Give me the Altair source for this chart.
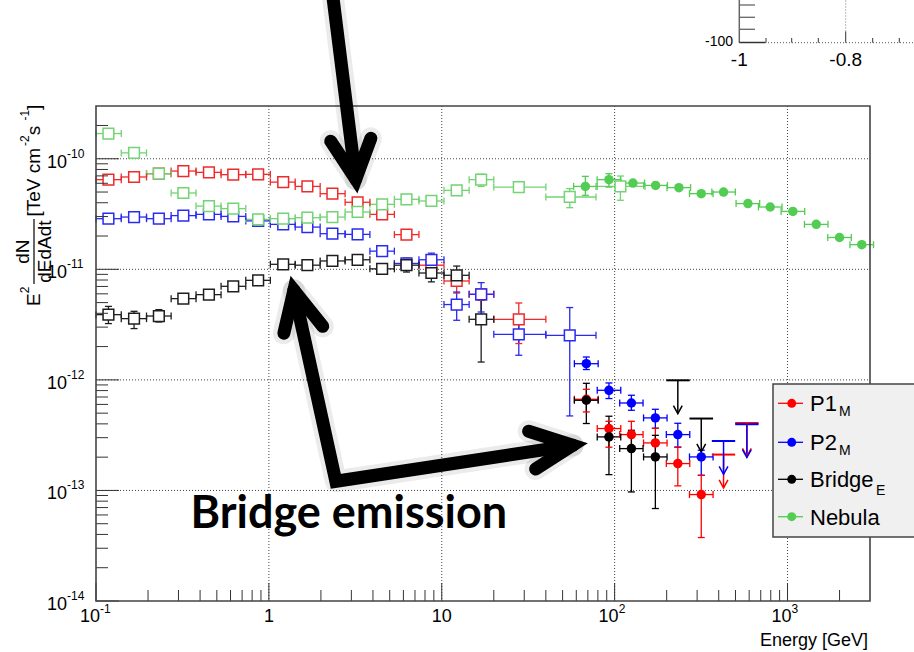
import altair as alt
import pandas as pd

W, H = 774, 495
PAD = {"left": 96, "top": 106, "right": 44, "bottom": 51}
FONT = "Liberation Sans"

# ---------------- Fermi-LAT points (open squares) ----------------
fermi_E = [0.118, 0.166, 0.231, 0.320, 0.450, 0.622, 0.867, 1.21, 1.67, 2.33,
           3.26, 4.52, 6.25, 8.71, 12.2, 16.9, 27.9, 55.0, 108.0]
fermi_E_lo = [0.100, 0.140, 0.196, 0.272, 0.379, 0.529, 0.735, 1.02, 1.42, 1.98,
              2.76, 3.84, 5.32, 7.38, 10.3, 14.4, 20.0, 40.0, 78.0]
fermi_E_hi = [0.140, 0.196, 0.272, 0.379, 0.529, 0.735, 1.02, 1.42, 1.98, 2.76,
              3.84, 5.32, 7.38, 10.3, 14.4, 20.0, 40.0, 78.0, 150.0]

p1_fermi = [6.47e-11, 6.84e-11, 7.32e-11, 7.74e-11, 7.53e-11, 7.18e-11, 7.23e-11, 6.15e-11,
            5.62e-11, 4.83e-11, 4.04e-11, 3.14e-11, 2.06e-11, 1.09e-11, 7.84e-12, 5.94e-12, 3.53e-12]
p1_fermi_lo = [None] * 13 + [9.8e-12, 6.1e-12, 5.24e-12, 2.13e-12]
p1_fermi_hi = [None] * 13 + [1.2e-11, 8.83e-12, 6.6e-12, 4.96e-12]

p2_fermi = [2.87e-11, 2.97e-11, 2.87e-11, 3.06e-11, 3.14e-11, 3.01e-11, 2.74e-11, 2.55e-11,
            2.41e-11, 2.10e-11, 2.07e-11, 1.46e-11, 1.13e-11, 1.22e-11, 4.80e-12, 5.94e-12,
            2.58e-12, 2.53e-12]
p2_fermi_lo = [None] * 13 + [1.09e-11, 3.46e-12, 4.11e-12, 1.67e-12, 4.72e-13]
p2_fermi_hi = [None] * 13 + [1.40e-11, 6.23e-12, 7.58e-12, 3.32e-12, 4.51e-12]

bridge_fermi = [3.89e-12, 3.58e-12, 3.78e-12, 5.43e-12, 5.90e-12, 7.02e-12, 7.95e-12, 1.11e-11,
                1.09e-11, 1.19e-11, 1.22e-11, 1.01e-11, 1.09e-11, 9.26e-12, 8.83e-12, 3.53e-12]
bridge_fermi_lo = [3.23e-12, 2.91e-12, 3.34e-12] + [None] * 9 + [9.45e-12, 7.7e-12, 7.17e-12, 1.45e-12]
bridge_fermi_hi = [4.62e-12, 4.17e-12, 4.32e-12] + [None] * 9 + [1.26e-11, 1.09e-11, 1.07e-11, 5.82e-12]

nebula_fermi = [1.69e-10, 1.13e-10, 7.32e-11, 4.90e-11, 3.73e-11, 3.54e-11, 2.83e-11, 2.87e-11,
                2.93e-11, 2.97e-11, 3.30e-11, 3.87e-11, 4.30e-11, 4.15e-11, 5.18e-11, 6.47e-11,
                5.54e-11, 4.51e-11, 5.62e-11]
nebula_fermi_lo = [None] * 15 + [5.62e-11, None, 3.61e-11, 4.21e-11]
nebula_fermi_hi = [None] * 15 + [7.23e-11, None, 5.37e-11, 6.98e-11]

# ---------------- MAGIC points (filled circles) ----------------
magic_E = [68.6, 92.7, 125.0, 172.0, 232.0, 317.0]
magic_E_lo = [58.5, 79.3, 107.0, 147.0, 199.0, 271.0]
magic_E_hi = [80.3, 108.5, 146.0, 201.0, 272.0, 371.0]

p1_magic = [6.68e-13, 3.63e-13, 3.20e-13, 2.69e-13, 1.75e-13, 9.18e-14]
p1_magic_lo = [5.13e-13, 2.46e-13, 2.43e-13, 2.00e-13, 1.10e-13, 3.75e-14]
p1_magic_hi = [8.22e-13, 4.22e-13, 4.22e-13, 3.65e-13, 2.47e-13, 1.37e-13]

p2_magic = [1.40e-12, 8.05e-13, 6.18e-13, 4.53e-13, 3.20e-13, 2.01e-13]
p2_magic_lo = [1.24e-12, 6.78e-13, 5.31e-13, 3.65e-13, 2.46e-13, 1.37e-13]
p2_magic_hi = [1.61e-12, 9.38e-13, 7.26e-13, 5.42e-13, 4.05e-13, 2.31e-13]

bridge_magic = [6.54e-13, 3.05e-13, 2.39e-13, 2.01e-13]
bridge_magic_lo = [4.03e-13, 1.39e-13, 9.69e-14, 6.86e-14]
bridge_magic_hi = [9.31e-13, 4.69e-13, 3.50e-13, 3.15e-13]

nebula_magic_E = [67.7, 92.7, 127.6, 172.6, 235.4, 317.0, 426.6, 590.0, 794.0, 1074.0, 1466.0, 1999.0, 2688.0]
nebula_magic_E_lo = [57.9, 79.2, 109.0, 147.5, 201.0, 271.0, 365.0, 504.0, 679.0, 918.0, 1253.0, 1709.0, 2297.0]
nebula_magic_E_hi = [79.2, 108.5, 149.0, 202.0, 275.0, 371.0, 499.0, 690.0, 929.0, 1257.0, 1715.0, 2339.0, 3145.0]
nebula_magic = [5.62e-11, 6.47e-11, 6.03e-11, 5.74e-11, 5.48e-11, 4.83e-11, 5.00e-11, 3.93e-11,
                3.66e-11, 3.34e-11, 2.55e-11, 1.94e-11, 1.67e-11]
nebula_magic_lo = [4.67e-11, 5.54e-11] + [None] * 11
nebula_magic_hi = [6.93e-11, 7.32e-11] + [None] * 11

# ---------------- MAGIC upper limits ----------------
ul_series = ["Bridge", "Bridge", "P1", "P1", "P2", "P2"]
ul_E = [232.0, 317.0, 426.6, 582.0, 426.6, 582.0]
ul_E_lo = [199.0, 271.0, 365.0, 498.0, 365.0, 498.0]
ul_E_hi = [272.0, 371.0, 498.0, 680.0, 498.0, 680.0]
ul_F = [9.91e-13, 4.47e-13, 2.11e-13, 4.07e-13, 2.80e-13, 3.97e-13]

# ---------------- annotations (energy, flux) ----------------
arrow_group = ["a", "a", "h1", "h1", "h1", "b", "b", "b", "h2", "h2", "h2", "h3", "h3", "h3"]
arrow_E = [2.34, 3.18, 2.28, 3.18, 3.89, 1.395, 2.44, 57.2, 1.221, 1.395, 2.05, 31.8, 57.2, 34.9]
arrow_F = [3.0e-9, 6.52e-11, 1.44e-10, 6.52e-11, 1.53e-10, 6.46e-12, 1.21e-13, 2.56e-13,
           2.64e-12, 6.46e-12, 3.05e-12, 3.43e-13, 2.56e-13, 1.56e-13]
note_text = ["Bridge emission"]
note_E = [2.90]
note_F = [4.55e-14]

# ---------------- axes ----------------
x_major = [0.1, 1, 10, 100, 1000]
x_label_base = ["10", "1", "10", "10", "10"]
x_label_exp = ["-1", "", "", "2", "3"]
y_major = [1e-14, 1e-13, 1e-12, 1e-11, 1e-10]
y_label_exp = ["-14", "-13", "-12", "-11", "-10"]
x_grid = [1, 10, 100, 1000]
y_grid = [1e-13, 1e-12, 1e-11, 1e-10]

legend_names = ["P1", "P2", "Bridge", "Nebula"]
legend_subs = ["M", "M", "E", ""]

COL = {
    ("P1", "fermi"): "#ee2a2a", ("P2", "fermi"): "#2a2af0",
    ("Bridge", "fermi"): "#1e1e1e", ("Nebula", "fermi"): "#72d472",
    ("P1", "magic"): "#ff0000", ("P2", "magic"): "#0000ff",
    ("Bridge", "magic"): "#000000", ("Nebula", "magic"): "#52cc52",
}
LEG_COL = ["#ff0000", "#0000ff", "#000000", "#52cc52"]

XS = alt.Scale(type="log", domain=[0.1, 3000], nice=False)
YS = alt.Scale(type="log", domain=[1e-14, 3e-10], nice=False)


def X(f):
    return alt.X(f"{f}:Q", scale=XS, axis=None)


def Y(f):
    return alt.Y(f"{f}:Q", scale=YS, axis=None)


recs = []


def add(series, src, E, Elo, Ehi, F, Flo, Fhi):
    for i, f in enumerate(F):
        recs.append(dict(series=series, src=src, E=E[i], Elo=Elo[i], Ehi=Ehi[i], F=f,
                         Flo=Flo[i], Fhi=Fhi[i], color=COL[(series, src)]))


add("P1", "fermi", fermi_E, fermi_E_lo, fermi_E_hi, p1_fermi, p1_fermi_lo, p1_fermi_hi)
add("P2", "fermi", fermi_E, fermi_E_lo, fermi_E_hi, p2_fermi, p2_fermi_lo, p2_fermi_hi)
add("Bridge", "fermi", fermi_E, fermi_E_lo, fermi_E_hi, bridge_fermi, bridge_fermi_lo, bridge_fermi_hi)
add("Nebula", "fermi", fermi_E, fermi_E_lo, fermi_E_hi, nebula_fermi, nebula_fermi_lo, nebula_fermi_hi)
add("P1", "magic", magic_E, magic_E_lo, magic_E_hi, p1_magic, p1_magic_lo, p1_magic_hi)
add("P2", "magic", magic_E, magic_E_lo, magic_E_hi, p2_magic, p2_magic_lo, p2_magic_hi)
add("Bridge", "magic", magic_E, magic_E_lo, magic_E_hi, bridge_magic, bridge_magic_lo, bridge_magic_hi)
add("Nebula", "magic", nebula_magic_E, nebula_magic_E_lo, nebula_magic_E_hi, nebula_magic,
    nebula_magic_lo, nebula_magic_hi)

pts = pd.DataFrame(recs)
pts["Flo"] = pd.to_numeric(pts["Flo"])
pts["Fhi"] = pd.to_numeric(pts["Fhi"])
hcaps = pd.concat([pts.assign(cx=pts.Elo), pts.assign(cx=pts.Ehi)])
vpts = pts[pts.Flo.notna()]
vcaps = pd.concat([vpts.assign(cy=vpts.Flo), vpts.assign(cy=vpts.Fhi)])
fermi = pts[pts.src == "fermi"]
magic = pts[pts.src == "magic"]

ul = pd.DataFrame(dict(series=ul_series, E=ul_E, Elo=ul_E_lo, Ehi=ul_E_hi, F=ul_F))
ul["color"] = [COL[(s, "magic")] for s in ul.series]
ul["tip"] = ul.F * 0.5  # fixed-length arrow, as drawn by ROOT

STROKE = alt.Color("color:N", scale=None, legend=None)

layers = []
# grid
layers.append(alt.Chart(pd.DataFrame({"v": x_grid})).mark_rule(
    strokeDash=[1, 2], color="#444", strokeWidth=1).encode(x=X("v"), y=alt.value(0), y2=alt.value(H)))
layers.append(alt.Chart(pd.DataFrame({"v": y_grid})).mark_rule(
    strokeDash=[1, 2], color="#444", strokeWidth=1).encode(y=Y("v"), x=alt.value(0), x2=alt.value(W)))

# error bars
layers.append(alt.Chart(pts).mark_rule(strokeWidth=1.3).encode(
    x=X("Elo"), x2="Ehi", y=Y("F"), color=STROKE))
layers.append(alt.Chart(vpts).mark_rule(strokeWidth=1.3).encode(
    x=X("E"), y=Y("Flo"), y2="Fhi", color=STROKE))
layers.append(alt.Chart(hcaps).mark_point(shape="M0,-1L0,1", size=49, strokeWidth=1.3,
                                          filled=False, opacity=1).encode(
    x=X("cx"), y=Y("F"), color=STROKE))
layers.append(alt.Chart(vcaps).mark_point(shape="M-1,0L1,0", size=49, strokeWidth=1.3,
                                          filled=False, opacity=1).encode(
    x=X("E"), y=Y("cy"), color=STROKE))

# upper limits
layers.append(alt.Chart(ul).mark_rule(strokeWidth=2).encode(x=X("Elo"), x2="Ehi", y=Y("F"), color=STROKE))
layers.append(alt.Chart(ul).mark_rule(strokeWidth=1.5).encode(x=X("E"), y=Y("F"), y2="tip", color=STROKE))
layers.append(alt.Chart(ul).mark_point(shape="M-1.1,-2L0,0L1.1,-2", size=64, strokeWidth=1.5,
                                       filled=False, opacity=1).encode(
    x=X("E"), y=Y("tip"), color=STROKE))

# markers
layers.append(alt.Chart(fermi).mark_point(shape="square", size=115, filled=False, fill="white",
                                          fillOpacity=1, strokeWidth=1.5, opacity=1).encode(
    x=X("E"), y=Y("F"), color=STROKE))
layers.append(alt.Chart(magic).mark_circle(size=90, opacity=1).encode(
    x=X("E"), y=Y("F"), color=STROKE))

# ticks (inside)
x_minor = [m * d for d in [0.1, 1, 10, 100, 1000] for m in range(2, 10) if m * d < 3000]
y_minor = [m * d for d in [1e-14, 1e-13, 1e-12, 1e-11, 1e-10] for m in range(2, 10) if m * d < 3e-10]
tick_col = "#333"
layers.append(alt.Chart(pd.DataFrame({"v": x_major})).mark_rule(color=tick_col, strokeWidth=1).encode(
    x=X("v"), y=alt.value(H), y2=alt.value(H - 18)))
layers.append(alt.Chart(pd.DataFrame({"v": x_minor})).mark_rule(color=tick_col, strokeWidth=1).encode(
    x=X("v"), y=alt.value(H), y2=alt.value(H - 11)))
layers.append(alt.Chart(pd.DataFrame({"v": y_major})).mark_rule(color=tick_col, strokeWidth=1).encode(
    y=Y("v"), x=alt.value(0), x2=alt.value(23)))
layers.append(alt.Chart(pd.DataFrame({"v": y_minor})).mark_rule(color=tick_col, strokeWidth=1).encode(
    y=Y("v"), x=alt.value(0), x2=alt.value(12)))

# frame
one = pd.DataFrame({"a": [0]})
layers.append(alt.Chart(one).mark_rect(filled=False, stroke="#444", strokeWidth=1.6).encode(
    x=alt.value(0), x2=alt.value(W), y=alt.value(0), y2=alt.value(H)))

# tick labels
XL_Y = 511
xl = pd.DataFrame(dict(v=x_major, base=x_label_base, exp=x_label_exp))
xl_plain = xl[xl.exp == ""]
xl_sup = xl[xl.exp != ""]
layers.append(alt.Chart(xl_plain).mark_text(font=FONT, fontSize=18, align="center", baseline="middle").encode(
    x=X("v"), y=alt.value(XL_Y), text="base:N"))
layers.append(alt.Chart(xl_sup).mark_text(font=FONT, fontSize=18, align="right", baseline="middle", dx=4).encode(
    x=X("v"), y=alt.value(XL_Y), text="base:N"))
layers.append(alt.Chart(xl_sup).mark_text(font=FONT, fontSize=12, align="left", baseline="middle", dx=4, dy=-8).encode(
    x=X("v"), y=alt.value(XL_Y), text="exp:N"))
yl = pd.DataFrame(dict(v=y_major, exp=y_label_exp))
layers.append(alt.Chart(yl).mark_text(font=FONT, fontSize=18, align="right", baseline="middle", dy=4).encode(
    y=Y("v"), x=alt.value(-29), text=alt.value("10")))
layers.append(alt.Chart(yl).mark_text(font=FONT, fontSize=12, align="left", baseline="middle", dy=-5).encode(
    y=Y("v"), x=alt.value(-29), text="exp:N"))

# axis titles
layers.append(alt.Chart(one).mark_text(font=FONT, fontSize=18, align="right", baseline="alphabetic").encode(
    x=alt.value(772), y=alt.value(540), text=alt.value("Energy [GeV]")))


def ytxt(txt, x, y, size, align="left"):
    return alt.Chart(one).mark_text(font=FONT, fontSize=size, angle=270, align=align,
                                    baseline="middle").encode(
        x=alt.value(x - PAD["left"]), y=alt.value(y - PAD["top"]), text=alt.value(txt))


layers += [
    ytxt("E", 34, 306, 19), ytxt("2", 25, 293.3, 12),
    ytxt("dN", 23, 251.6, 19, "center"), ytxt("dEdAdt", 45, 251.6, 19, "center"),
    ytxt("[TeV cm", 34, 216.6, 19), ytxt("-2", 25, 145.9, 12), ytxt(" s", 34, 135.2, 19),
    ytxt("-1", 25, 120.4, 12), ytxt("]", 34, 109.9, 19),
]
layers.append(alt.Chart(one).mark_rule(color="black", strokeWidth=1.2).encode(
    x=alt.value(34 - PAD["left"]), y=alt.value(219 - PAD["top"]), y2=alt.value(284 - PAD["top"])))

# annotation arrows + text
arr = pd.DataFrame(dict(g=arrow_group, E=arrow_E, F=arrow_F))
arr["i"] = range(len(arr))
layers.append(alt.Chart(arr).mark_line(color="#000", opacity=0.08, strokeWidth=22, strokeCap="round",
                                       strokeJoin="round", clip=False).encode(
    x=X("E"), y=Y("F"), detail="g:N", order="i:Q"))
layers.append(alt.Chart(arr).mark_line(color="#000", strokeWidth=13, strokeCap="round",
                                       strokeJoin="miter", clip=False).encode(
    x=X("E"), y=Y("F"), detail="g:N", order="i:Q"))
layers.append(alt.Chart(pd.DataFrame(dict(E=note_E, F=note_F, t=note_text))).mark_text(
    font="Lato", fontWeight="bold", fontSize=45, align="center", baseline="alphabetic", clip=False).encode(
    x=X("E"), y=Y("F"), text="t:N"))

# legend box
lx0 = 773 - PAD["left"]
layers.append(alt.Chart(one).mark_rect(fill="#f0f0f0", stroke="#444", strokeWidth=1.5).encode(
    x=alt.value(lx0), x2=alt.value(W + 80), y=alt.value(384 - PAD["top"]), y2=alt.value(537 - PAD["top"])))
leg_y = [403.3, 442.3, 479.3, 516.7]
sub_x = [839, 839, 876, 0]
sub_dy = [9, 9, 12, 0]
for name, sub, c, yy, sx, sdy in zip(legend_names, legend_subs, LEG_COL, leg_y, sub_x, sub_dy):
    ry = yy - PAD["top"]
    layers.append(alt.Chart(one).mark_rule(color=c, strokeWidth=1.3).encode(
        x=alt.value(778 - PAD["left"]), x2=alt.value(803 - PAD["left"]), y=alt.value(ry)))
    layers.append(alt.Chart(one).mark_circle(color=c, size=80, opacity=1).encode(
        x=alt.value(791.7 - PAD["left"]), y=alt.value(ry)))
    layers.append(alt.Chart(one).mark_text(font=FONT, fontSize=22, align="left", baseline="middle").encode(
        x=alt.value(810 - PAD["left"]), y=alt.value(ry + 1), text=alt.value(name)))
    if sub:
        layers.append(alt.Chart(one).mark_text(font=FONT, fontSize=14, align="left", baseline="middle").encode(
            x=alt.value(sx - PAD["left"]), y=alt.value(ry + sdy), text=alt.value(sub)))

# fragment of a neighbouring figure (top right)
ic = "#666"
ox, oy = PAD["left"], PAD["top"]
layers.append(alt.Chart(one).mark_rule(color=ic, strokeWidth=1.5).encode(
    x=alt.value(739.3 - ox), y=alt.value(-oy), y2=alt.value(42.7 - oy)))
for ty in [5, 17.3, 29.3]:
    layers.append(alt.Chart(one).mark_rule(color=ic, strokeWidth=1.3).encode(
        x=alt.value(739.3 - ox), x2=alt.value(755 - ox), y=alt.value(ty - oy)))
layers.append(alt.Chart(one).mark_rule(color="#333", strokeWidth=1.5).encode(
    x=alt.value(739.3 - ox), x2=alt.value(765 - ox), y=alt.value(42.5 - oy)))
layers.append(alt.Chart(one).mark_rule(color="#555", strokeWidth=1, strokeDash=[1, 2]).encode(
    x=alt.value(765 - ox), x2=alt.value(914 - ox), y=alt.value(42.7 - oy)))
for tx in [766, 791.7, 818.3, 872.7, 899.3]:
    layers.append(alt.Chart(one).mark_rule(color="#333", strokeWidth=1).encode(
        x=alt.value(tx - ox), y=alt.value(42.7 - oy), y2=alt.value(38 - oy)))
layers.append(alt.Chart(one).mark_rule(color="#333", strokeWidth=1).encode(
    x=alt.value(845.7 - ox), y=alt.value(42.7 - oy), y2=alt.value(31.5 - oy)))
layers.append(alt.Chart(one).mark_rule(color="#777", strokeWidth=1, strokeDash=[1, 2]).encode(
    x=alt.value(845.7 - ox), y=alt.value(31.5 - oy), y2=alt.value(-oy)))
layers.append(alt.Chart(one).mark_text(font=FONT, fontSize=14, align="right", baseline="middle").encode(
    x=alt.value(733 - ox), y=alt.value(42 - oy), text=alt.value("-100")))
layers.append(alt.Chart(one).mark_text(font=FONT, fontSize=19, align="center", baseline="middle").encode(
    x=alt.value(739.3 - ox), y=alt.value(60 - oy), text=alt.value("-1")))
layers.append(alt.Chart(one).mark_text(font=FONT, fontSize=19, align="center", baseline="middle").encode(
    x=alt.value(845.7 - ox), y=alt.value(60 - oy), text=alt.value("-0.8")))

chart = alt.layer(*layers).properties(
    width=W, height=H, padding=PAD, autosize=alt.AutoSizeParams(type="none"), background="white"
).configure_view(stroke=None)

chart.save("out.html", embed_options={"renderer": "svg", "actions": False})
